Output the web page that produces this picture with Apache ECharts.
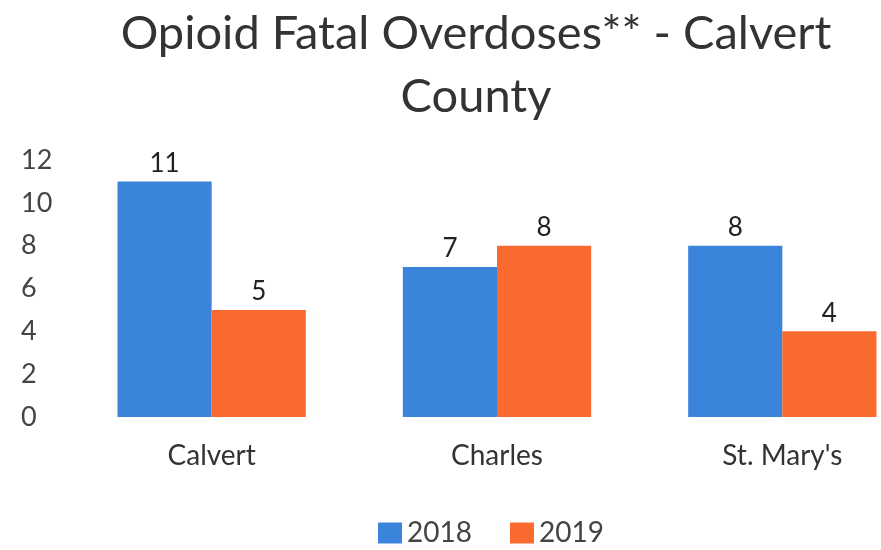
<!DOCTYPE html>
<html>
<head>
<meta charset="utf-8">
<script src="https://cdn.jsdelivr.net/npm/echarts@6/dist/echarts.min.js"></script>
<style>
  html, body { margin: 0; padding: 0; background: #fff; }
</style>
</head>
<body>
<div id="main" style="width: 881px; height: 550px;"></div>
<script>
  // data
  var counties = ["Calvert", "Charles", "St. Mary's"];
  var deaths2018 = [11, 7, 8];
  var deaths2019 = [5, 8, 4];
  var yTicks = [0, 2, 4, 6, 8, 10, 12];

  var myChart = echarts.init(document.getElementById("main"));
  var font = "Lato, 'Open Sans', sans-serif";

  var labelStyle = {
    show: true,
    position: "top",
    distance: 5,
    color: "#222",
    fontSize: 26,
    fontFamily: font
  };

  var option = {
    animation: false,
    title: {
      text: "Opioid Fatal Overdoses** - Calvert\nCounty",
      left: 471,
      top: -3,
      textAlign: "center",
      textStyle: {
        fontFamily: font,
        fontWeight: "normal",
        fontSize: 47,
        lineHeight: 63,
        color: "#333"
      }
    },
    legend: {
      top: 514,
      left: 373,
      itemWidth: 24,
      itemHeight: 21,
      itemGap: 38,
      icon: "rect",
      textStyle: { fontFamily: font, fontSize: 28, color: "#444" },
      data: ["2018", "2019"]
    },
    grid: { left: 69, width: 856, top: 160, bottom: 133, outerBoundsMode: "none" },
    xAxis: {
      type: "category",
      data: counties,
      axisLine: { show: false },
      axisTick: { show: false },
      axisLabel: { margin: 25, fontSize: 28, color: "#333", fontFamily: font }
    },
    yAxis: {
      type: "value",
      min: yTicks[0],
      max: yTicks[yTicks.length - 1],
      interval: 2,
      splitLine: { show: false },
      axisLine: { show: false },
      axisTick: { show: false },
      axisLabel: { align: "left", margin: 48, fontSize: 27, color: "#444", fontFamily: font }
    },
    series: [
      {
        name: "2018",
        type: "bar",
        data: deaths2018,
        barGap: "0%",
        barCategoryGap: "34%",
        itemStyle: { color: "#3a84dc" },
        label: labelStyle
      },
      {
        name: "2019",
        type: "bar",
        data: deaths2019,
        itemStyle: { color: "#f96a2e" },
        label: labelStyle
      }
    ]
  };

  myChart.setOption(option);
</script>
</body>
</html>
